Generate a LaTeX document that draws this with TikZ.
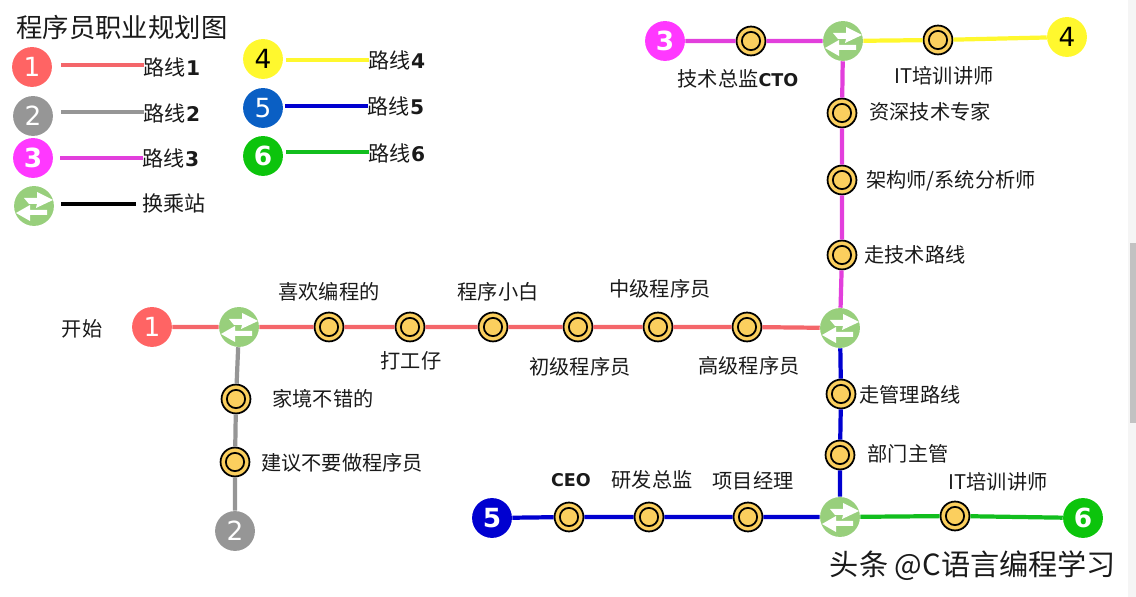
\documentclass[tikz,border=0pt]{standalone}
\usepackage{fontspec}
\setmainfont{Noto Sans CJK SC}
\newfontfamily\latinbold[BoldFont={DejaVu Sans Bold}]{DejaVu Sans}
\usetikzlibrary{positioning}
\definecolor{routered}{HTML}{F4666A}
\definecolor{routegray}{HTML}{969696}
\definecolor{routepink}{HTML}{E23FDC}
\definecolor{routeyellow}{HTML}{FFF82E}
\definecolor{routeblue}{HTML}{0000D0}
\definecolor{routegreen}{HTML}{12BE1E}
\definecolor{stationgold}{HTML}{FBCF5E}
\definecolor{hubgreen}{HTML}{98CF7C}
\definecolor{keyblue}{HTML}{0A5FC4}
\definecolor{redcap}{HTML}{FF6464}
\definecolor{pinkcap}{HTML}{FF38FF}
\definecolor{greencap}{HTML}{0CC40C}
\definecolor{labelgray}{HTML}{1A1A1A}
\newcommand{\bnum}[1]{{\fontsize{10}{10}\latinbold\bfseries #1}}
\newcommand{\keynum}[1]{{\fontsize{11.5}{11.5}\latinbold\bfseries #1}}
\tikzset{
  routecap/.style={circle, inner sep=0pt, minimum size=40*0.567pt, font=\fontsize{15}{15}\latinbold, text=white},
  capbold/.style={font=\fontsize{15}{15}\latinbold\bfseries},
  station/.style={circle, draw=black, fill=stationgold, line width=1pt, inner sep=0pt, minimum size=29*0.567pt,
    path picture={\draw[black, line width=1pt] (path picture bounding box.center) circle (5.2pt);}},
  hub/.style={circle, fill=hubgreen, inner sep=0pt, minimum size=40*0.567pt,
    path picture={
      \begin{scope}[shift={(path picture bounding box.center)}, x=0.02cm, y=-0.02cm]
        \fill[white] (-10,-8) -- (3,-8) -- (3,-14) -- (19,-6) -- (2,2) -- (3,-2) -- (-5,-2) -- cycle;
        \fill[white] (-18,7) -- (-4,-1) -- (-4,4) -- (13,4) -- (13,9) -- (-4,9) -- (-4,15) -- cycle;
      \end{scope}
    }},
  stationlabel/.style={font=\fontsize{11.5}{11.5}\selectfont, text=labelgray, inner sep=0pt},
  keylabel/.style={font=\fontsize{12}{12}\selectfont, text=labelgray, inner sep=0pt},
  keyline/.style={line width=2.4pt},
  routeline/.style={line width=2.4pt}
}
\begin{document}
\begin{tikzpicture}[x=0.02cm, y=-0.02cm]
  \useasboundingbox (0,0) rectangle (1136,597);
  % scrollbar
  \fill[black!4] (1128,0) rectangle (1136,597);
  \fill[black!24] (1130,243) rectangle (1136,423);

  % legend
  \node[stationlabel, font=\fontsize{15}{15}\selectfont] (title) at (122,27) {程序员职业规划图};
  \node[routecap, fill=redcap] (keyone) at (32,67) {1};
  \node[routecap, fill=routegray] (keytwo) at (33,116) {2};
  \node[routecap, capbold, fill=pinkcap] (keythree) at (33,158) {3};
  \node[hub] (keyhub) at (34,206) {};
  \node[routecap, fill=routeyellow, text=black] (keyfour) at (263,59) {4};
  \node[routecap, fill=keyblue] (keyfive) at (263,108) {5};
  \node[routecap, capbold, fill=greencap] (keysix) at (263,156) {6};
  \node[keylabel] (nameone) at (172,67) {路线\keynum{1}};
  \node[keylabel] (nametwo) at (172,113) {路线\keynum{2}};
  \node[keylabel] (namethree) at (171,158) {路线\keynum{3}};
  \node[keylabel] (namehub) at (174,203) {换乘站};
  \node[keylabel] (namefour) at (397,60) {路线\keynum{4}};
  \node[keylabel] (namefive) at (396,106) {路线\keynum{5}};
  \node[keylabel] (namesix) at (397,153) {路线\keynum{6}};
  \coordinate (lineone) at (61,65);
  \coordinate (linetwo) at (61,112);
  \coordinate (linethree) at (60,158);
  \coordinate (linehub) at (61,204);
  \coordinate (linefour) at (286,60);
  \coordinate (linefive) at (285,106);
  \coordinate (linesix) at (286,152);
  \coordinate (linehubend) at (136,204);
  \draw[keyline, routered] (lineone) -- (nameone.west |- lineone);
  \draw[keyline, routegray] (linetwo) -- (nametwo.west |- linetwo);
  \draw[keyline, routepink] (linethree) -- (namethree.west |- linethree);
  \draw[keyline, black] (linehub) -- (linehubend);
  \draw[keyline, routeyellow] (linefour) -- (namefour.west |- linefour);
  \draw[keyline, routeblue] (linefive) -- (namefive.west |- linefive);
  \draw[keyline, routegreen] (linesix) -- (namesix.west |- linesix);

  % line ends
  \node[routecap, fill=redcap] (capone) at (152,327) {1};
  \node[routecap, fill=routegray] (captwo) at (235,531) {2};
  \node[routecap, capbold, fill=pinkcap] (capthree) at (665,41) {3};
  \node[routecap, fill=routeyellow, text=black] (capfour) at (1067,37) {4};
  \node[routecap, capbold, fill=routeblue] (capfive) at (492,518) {5};
  \node[routecap, capbold, fill=greencap] (capsix) at (1083,518) {6};

  % interchanges
  \node[hub] (hubstart) at (239,327) {};
  \node[hub] (hubmid) at (840,328) {};
  \node[hub] (hubtop) at (843,41) {};
  \node[hub] (hubbottom) at (840,517) {};

  % stations
  \node[station] (love) at (329,327) {};
  \node[station] (worker) at (410,327) {};
  \node[station] (novice) at (493,327) {};
  \node[station] (junior) at (578,327) {};
  \node[station] (middle) at (658,327) {};
  \node[station] (senior) at (747,327) {};
  \node[station] (rich) at (236,399) {};
  \node[station] (advice) at (235,462) {};
  \node[station] (cto) at (751,41) {};
  \node[station] (trainertop) at (938,40) {};
  \node[station] (expert) at (842,113) {};
  \node[station] (architect) at (842,180) {};
  \node[station] (techpath) at (842,255) {};
  \node[station] (mgmtpath) at (841,394) {};
  \node[station] (manager) at (840,455) {};
  \node[station] (ceo) at (569,517) {};
  \node[station] (rnd) at (649,517) {};
  \node[station] (pm) at (748,517) {};
  \node[station] (trainerlow) at (955,516) {};

  % routes
  \draw[routeline, routered] (capone) -- (hubstart) -- (love) -- (worker) -- (novice) -- (junior) -- (middle) -- (senior) -- (hubmid);
  \draw[routeline, routegray] (hubstart) -- (rich) -- (advice) -- (captwo);
  \draw[routeline, routepink] (capthree) -- (cto) -- (hubtop) -- (expert) -- (architect) -- (techpath) -- (hubmid);
  \draw[routeline, routeyellow] (hubtop) -- (trainertop) -- (capfour);
  \draw[routeline, routeblue] (hubmid) -- (mgmtpath) -- (manager) -- (hubbottom);
  \draw[routeline, routeblue] (capfive) -- (ceo) -- (rnd) -- (pm) -- (hubbottom);
  \draw[routeline, routegreen] (hubbottom) -- (trainerlow) -- (capsix);

  % labels
  \node[stationlabel] (labelstart) at (82,329) {开始};
  \node[stationlabel] (labellove) at (329,292) {喜欢编程的};
  \node[stationlabel] (labelworker) at (411,361) {打工仔};
  \node[stationlabel] (labelnovice) at (498,292) {程序小白};
  \node[stationlabel] (labeljunior) at (580,367) {初级程序员};
  \node[stationlabel] (labelmiddle) at (660,289) {中级程序员};
  \node[stationlabel] (labelsenior) at (749,366) {高级程序员};
  \node[stationlabel] (labelrich) at (323,399) {家境不错的};
  \node[stationlabel] (labeladvice) at (342,463) {建议不要做程序员};
  \node[stationlabel] (labelcto) at (738,79) {技术总监\bnum{CTO}};
  \node[stationlabel] (labeltrainertop) at (944,76) {IT培训讲师};
  \node[stationlabel] (labelexpert) at (930,112) {资深技术专家};
  \node[stationlabel] (labelarchitect) at (951,181) {架构师/系统分析师};
  \node[stationlabel] (labeltech) at (915,255) {走技术路线};
  \node[stationlabel] (labelmgmt) at (910,395) {走管理路线};
  \node[stationlabel] (labelmanager) at (908,454) {部门主管};
  \node[stationlabel] (labelceo) at (571,480) {\bnum{CEO}};
  \node[stationlabel] (labelrnd) at (652,480) {研发总监};
  \node[stationlabel] (labelpm) at (753,481) {项目经理};
  \node[stationlabel] (labeltrainerlow) at (998,482) {IT培训讲师};
  \node[stationlabel, font=\fontsize{16.6}{16.6}\selectfont] (watermark) at (973,566) {头条 @C语言编程学习};
\end{tikzpicture}
\end{document}
